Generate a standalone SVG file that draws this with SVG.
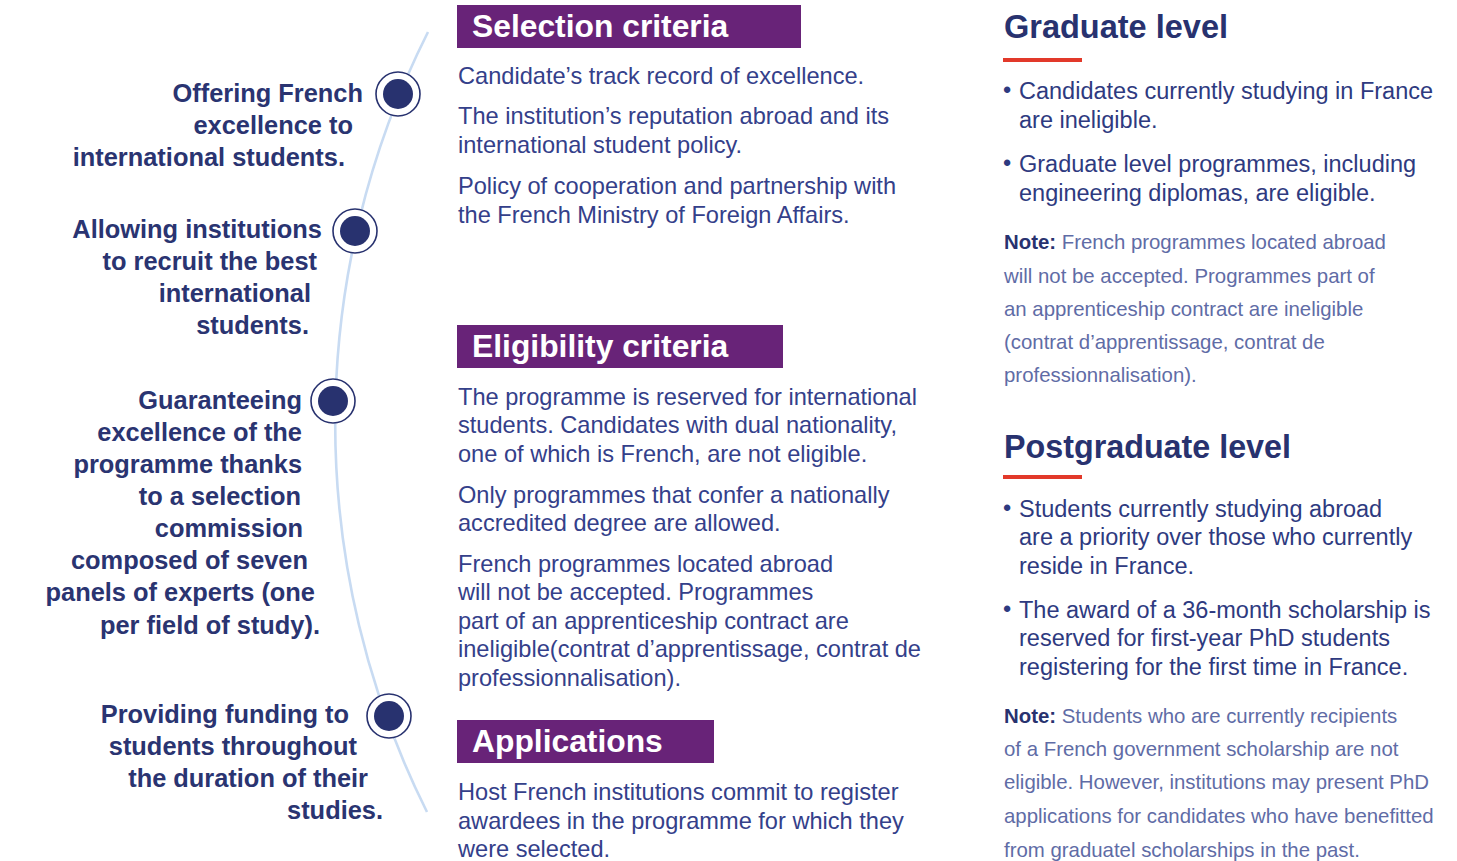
<svg xmlns="http://www.w3.org/2000/svg" width="1457" height="861" viewBox="0 0 1457 861">
<style>
.lbl{font-family:"Liberation Sans",Arial,sans-serif;font-weight:bold;font-size:25.4px;fill:#2a3471;text-anchor:end}
.body{font-family:"Liberation Sans",Arial,sans-serif;font-size:23.6px;fill:#34408a}
.rbody{font-family:"Liberation Sans",Arial,sans-serif;font-size:23.5px;fill:#2e3a80}
.hdr{font-family:"Liberation Sans",Arial,sans-serif;font-weight:bold;font-size:31.8px;fill:#ffffff}
.hbox{fill:#682378}
.h2{font-family:"Liberation Sans",Arial,sans-serif;font-weight:bold;font-size:34px;fill:#28326f}
.ul{fill:#e2392a}
.note{font-family:"Liberation Sans",Arial,sans-serif;font-size:20.4px;fill:#5f6ca6}
.nb{font-weight:bold;fill:#28326f}
.ring{fill:#ffffff;stroke:#28326f;stroke-width:1.6}
.dot{fill:#28326f}
</style>
<rect width="1457" height="861" fill="#ffffff"/>
<g id="connectors">
<path d="M 428 32 A 870 870 0 0 0 427 812" fill="none" stroke="#c8dbf2" stroke-width="2.6"/>
</g>
<g id="node-1">
<circle class="ring" cx="398" cy="94" r="22"/>
<circle class="dot" cx="398" cy="94" r="15"/>
<text class="lbl" x="363" y="102">Offering French</text>
<text class="lbl" x="353" y="134">excellence to</text>
<text class="lbl" x="345" y="166">international students.</text>
</g>
<g id="node-2">
<circle class="ring" cx="355" cy="231" r="22"/>
<circle class="dot" cx="355" cy="231" r="15"/>
<text class="lbl" x="322" y="238">Allowing institutions</text>
<text class="lbl" x="317" y="270">to recruit the best</text>
<text class="lbl" x="311" y="302">international</text>
<text class="lbl" x="309" y="334">students.</text>
</g>
<g id="node-3">
<circle class="ring" cx="333" cy="401" r="22"/>
<circle class="dot" cx="333" cy="401" r="15"/>
<text class="lbl" x="302" y="409">Guaranteeing</text>
<text class="lbl" x="302" y="441">excellence of the</text>
<text class="lbl" x="302" y="473">programme thanks</text>
<text class="lbl" x="301" y="505">to a selection</text>
<text class="lbl" x="303" y="537">commission</text>
<text class="lbl" x="308" y="569">composed of seven</text>
<text class="lbl" x="315" y="601">panels of experts (one</text>
<text class="lbl" x="320" y="634">per field of study).</text>
</g>
<g id="node-4">
<circle class="ring" cx="389" cy="716" r="22"/>
<circle class="dot" cx="389" cy="716" r="15"/>
<text class="lbl" x="349" y="723">Providing funding to</text>
<text class="lbl" x="357" y="755">students throughout</text>
<text class="lbl" x="368" y="787">the duration of their</text>
<text class="lbl" x="383" y="819">studies.</text>
</g>
<g id="selection-criteria">
<rect class="hbox" x="457" y="5" width="344" height="43"/>
<text class="hdr" x="472" y="37">Selection criteria</text>
<text class="body" x="458" y="84">Candidate’s track record of excellence.</text>
<text class="body" x="458" y="124">The institution’s reputation abroad and its</text>
<text class="body" x="458" y="153">international student policy.</text>
<text class="body" x="458" y="194">Policy of cooperation and partnership with</text>
<text class="body" x="458" y="223">the French Ministry of Foreign Affairs.</text>
</g>
<g id="eligibility-criteria">
<rect class="hbox" x="457" y="325" width="326" height="43"/>
<text class="hdr" x="472" y="357">Eligibility criteria</text>
<text class="body" x="458" y="405">The programme is reserved for international</text>
<text class="body" x="458" y="433">students. Candidates with dual nationality,</text>
<text class="body" x="458" y="462">one of which is French, are not eligible.</text>
<text class="body" x="458" y="503">Only programmes that confer a nationally</text>
<text class="body" x="458" y="531">accredited degree are allowed.</text>
<text class="body" x="458" y="572">French programmes located abroad</text>
<text class="body" x="458" y="600">will not be accepted. Programmes</text>
<text class="body" x="458" y="629">part of an apprenticeship contract are</text>
<text class="body" x="458" y="657">ineligible(contrat d’apprentissage, contrat de</text>
<text class="body" x="458" y="686">professionnalisation).</text>
</g>
<g id="applications">
<rect class="hbox" x="457" y="720" width="257" height="43"/>
<text class="hdr" x="472" y="752">Applications</text>
<text class="body" x="458" y="800">Host French institutions commit to register</text>
<text class="body" x="458" y="829">awardees in the programme for which they</text>
<text class="body" x="458" y="857">were selected.</text>
</g>
<g id="graduate-level">
<text class="h2" x="1004" y="38" textLength="224" lengthAdjust="spacingAndGlyphs">Graduate level</text>
<rect class="ul" x="1003" y="58" width="79" height="4"/>
<text class="rbody" x="1003" y="98">•</text>
<text class="rbody" x="1019" y="99">Candidates currently studying in France</text>
<text class="rbody" x="1019" y="128">are ineligible.</text>
<text class="rbody" x="1003" y="171">•</text>
<text class="rbody" x="1019" y="172">Graduate level programmes, including</text>
<text class="rbody" x="1019" y="201">engineering diplomas, are eligible.</text>
<text class="note" x="1004" y="249"><tspan class="nb">Note:</tspan> French programmes located abroad</text>
<text class="note" x="1004" y="283">will not be accepted. Programmes part of</text>
<text class="note" x="1004" y="316">an apprenticeship contract are ineligible</text>
<text class="note" x="1004" y="349">(contrat d’apprentissage, contrat de</text>
<text class="note" x="1004" y="382">professionnalisation).</text>
</g>
<g id="postgraduate-level">
<text class="h2" x="1004" y="458" textLength="287" lengthAdjust="spacingAndGlyphs">Postgraduate level</text>
<rect class="ul" x="1003" y="475" width="79" height="4"/>
<text class="rbody" x="1003" y="516">•</text>
<text class="rbody" x="1019" y="517">Students currently studying abroad</text>
<text class="rbody" x="1019" y="545">are a priority over those who currently</text>
<text class="rbody" x="1019" y="574">reside in France.</text>
<text class="rbody" x="1003" y="617">•</text>
<text class="rbody" x="1019" y="618">The award of a 36-month scholarship is</text>
<text class="rbody" x="1019" y="646">reserved for first-year PhD students</text>
<text class="rbody" x="1019" y="675">registering for the first time in France.</text>
<text class="note" x="1004" y="723"><tspan class="nb">Note:</tspan> Students who are currently recipients</text>
<text class="note" x="1004" y="756">of a French government scholarship are not</text>
<text class="note" x="1004" y="789">eligible. However, institutions may present PhD</text>
<text class="note" x="1004" y="823">applications for candidates who have benefitted</text>
<text class="note" x="1004" y="857">from graduatel scholarships in the past.</text>
</g>
</svg>
